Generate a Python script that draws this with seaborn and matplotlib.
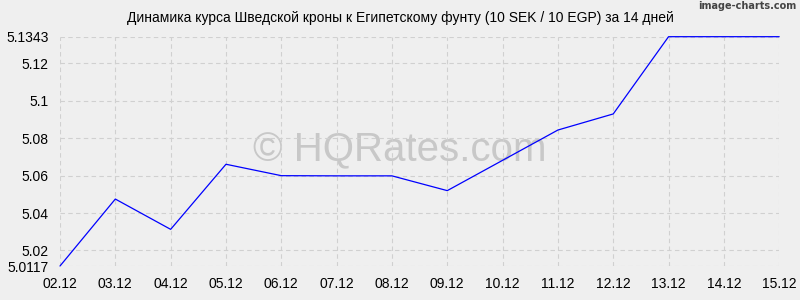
import matplotlib
matplotlib.use("Agg")
import matplotlib.pyplot as plt
import seaborn as sns
import pandas as pd

dates = ["02.12", "03.12", "04.12", "05.12", "06.12", "07.12", "08.12",
         "09.12", "10.12", "11.12", "12.12", "13.12", "14.12", "15.12"]
rates = [5.0117, 5.0475, 5.0313, 5.0661, 5.0600, 5.0599, 5.0599,
         5.0520, 5.0682, 5.0844, 5.0930, 5.1343, 5.1343, 5.1343]
ytick_values = [5.0117, 5.02, 5.04, 5.06, 5.08, 5.1, 5.12, 5.1343]
ytick_labels = ["5.0117", "5.02", "5.04", "5.06", "5.08", "5.1", "5.12", "5.1343"]
title = "Динамика курса Шведской кроны к Египетскому фунту (10 SEK / 10 EGP) за 14 дней"

sns.set_style("white")
plt.rcParams["font.family"] = ["Liberation Sans", "DejaVu Sans"]

bg = "#efefef"
df = pd.DataFrame({"pos": range(len(dates)), "rate": rates})

fig = plt.figure(figsize=(8, 3), dpi=100, facecolor=bg)
ax = fig.add_axes([0.075, 0.1133, 0.899, 0.7644])
ax.set_facecolor(bg)

sns.lineplot(data=df, x="pos", y="rate", ax=ax, color="#0000ff", linewidth=0.9)
for ln in ax.lines:
    ln.set_clip_on(False)

ax.set_xlim(0, len(dates) - 1)
ax.set_ylim(min(ytick_values), max(ytick_values))
ax.set_xticks(range(len(dates)))
ax.set_xticklabels(dates)
ax.set_yticks(ytick_values)
ax.set_yticklabels(ytick_labels)
ax.set_xlabel("")
ax.set_ylabel("")
ax.tick_params(axis="both", length=0, labelsize=10, colors="#000000")
ax.tick_params(axis="x", pad=8)
ax.tick_params(axis="y", pad=8)
for s in ax.spines.values():
    s.set_visible(False)
ax.grid(True, color="#d0d0d0", linestyle=(0, (4, 3)), linewidth=0.8)
ax.set_axisbelow(True)

fig.text(0.5, 1 - 18 / 300, title, ha="center", va="center", fontsize=10, color="#000000")
fig.text(0.995, 1 - 6 / 300, "image-charts.com", ha="right", va="center",
         fontsize=7, color="#444444", family=["DejaVu Sans Condensed", "DejaVu Sans"], weight="bold")
ax.text(0.5, 0.5, "© HQRates.com", transform=fig.transFigure, ha="center", va="center",
        fontsize=29, color="#c8c8c8", zorder=0.5)

fig.savefig("out.png", dpi=100, facecolor=bg)
